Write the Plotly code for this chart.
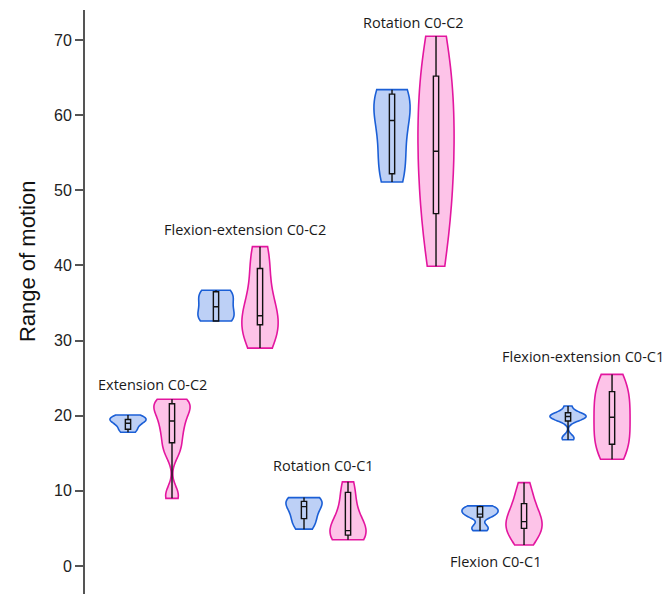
import plotly.graph_objects as go

categories = ["Extension C0-C2", "Flexion-extension C0-C2", "Rotation C0-C1",
              "Rotation C0-C2", "Flexion C0-C1", "Flexion-extension C0-C1"]

blue_samples = [
    [17.8, 18.1, 18.6, 19.2, 19.4, 19.5, 19.6, 19.8, 20.1],
    [32.6, 32.7, 33.0, 33.8, 34.5, 35.3, 36.1, 36.5, 36.7],
    [4.9, 5.6, 6.3, 7.0, 7.9, 8.4, 8.7, 8.9, 9.1],
    [51.1, 52.2, 54.0, 56.5, 59.3, 60.8, 62.0, 62.8, 63.4],
    [4.7, 5.0, 5.4, 6.5, 6.7, 6.9, 7.1, 7.3, 7.5, 7.7, 7.9, 8.0],
    [16.8, 17.2, 19.3, 19.6, 19.8, 19.9, 20.0, 20.2, 20.4, 21.3],
]
pink_samples = [
    [9.0, 9.7, 14.8, 15.8, 16.8, 17.8, 18.6, 19.4, 20.1, 20.8, 21.3, 21.7, 22.0, 22.2],
    [29.0, 30.2, 31.2, 32.1, 32.6, 33.3, 34.5, 36.5, 39.6, 41.0, 42.5],
    [3.5, 3.7, 4.1, 4.4, 4.7, 5.3, 6.5, 8.0, 9.8, 11.2],
    [39.9, 43.5, 46.9, 49.5, 52.5, 55.2, 57.0, 59.5, 62.5, 65.2, 67.5, 70.5],
    [2.8, 3.9, 4.6, 5.0, 5.5, 5.9, 6.5, 7.4, 8.3, 9.6, 11.1],
    [14.2, 14.9, 15.7, 16.5, 17.4, 18.4, 19.3, 20.2, 21.1, 22.0, 22.9, 23.8, 24.7, 25.5],
]

blue_q1 = [18.2, 32.6, 6.3, 52.2, 6.5, 19.3]
blue_median = [19.0, 34.5, 7.9, 59.3, 6.9, 19.9]
blue_q3 = [19.5, 36.5, 8.6, 62.8, 7.9, 20.4]
pink_q1 = [16.4, 32.1, 4.1, 46.9, 5.0, 16.2]
pink_median = [19.3, 33.3, 4.7, 55.2, 5.9, 19.8]
pink_q3 = [21.6, 39.6, 9.8, 65.2, 8.3, 23.2]

y_ticks = [0, 10, 20, 30, 40, 50, 60, 70]

# kernel bandwidth per violin (None = automatic)
blue_bw = [None, None, None, None, 0.45, None]
pink_bw = [1.2, None, None, None, None, None]

BLUE_LINE = "#1b5fd6"
BLUE_FILL = "#bdd0f6"
PINK_LINE = "#e3169f"
PINK_FILL = "#fdc3e8"

fig = go.Figure()

series = [
    (blue_samples, blue_q1, blue_median, blue_q3, blue_bw, BLUE_LINE, BLUE_FILL, 0),
    (pink_samples, pink_q1, pink_median, pink_q3, pink_bw, PINK_LINE, PINK_FILL, 1),
]

for samples, q1, med, q3, bws, lc, fc, off in series:
    for i, vals in enumerate(samples):
        pos = 2 * i + off
        kw = {}
        if bws[i] is not None:
            kw["bandwidth"] = bws[i]
        fig.add_trace(go.Violin(
            x=[pos] * len(vals), y=vals,
            spanmode="hard", width=0.82, scalemode="width",
            line=dict(color=lc, width=1.6), fillcolor=fc,
            points=False, box_visible=False, meanline_visible=False,
            showlegend=False, hoverinfo="skip", **kw,
        ))

for samples, q1, med, q3, bws, lc, fc, off in series:
    fig.add_trace(go.Box(
        x=[2 * i + off for i in range(len(samples))],
        q1=q1, median=med, q3=q3,
        lowerfence=[min(v) for v in samples],
        upperfence=[max(v) for v in samples],
        width=0.12, whiskerwidth=0,
        line=dict(color="#111111", width=1.4),
        fillcolor="rgba(0,0,0,0)",
        boxpoints=False, showlegend=False, hoverinfo="skip",
    ))

label_pos = [(0.55, 24.1), (2.66, 44.85), (4.44, 13.4), (6.48, 72.4), (8.36, 0.55), (10.33, 27.9)]
for name, (lx, ly) in zip(categories, label_pos):
    fig.add_annotation(x=lx, y=ly, text=name, showarrow=False,
                       font=dict(family="Open Sans", size=14.5, color="#1a1a1a"),
                       xanchor="center", yanchor="middle")

# y-axis title placed as rotated text (reference sets it above the axis centre)
fig.add_annotation(xref="paper", yref="paper", x=-0.099, y=0.5685,
                   text="Range of motion", textangle=-90, showarrow=False,
                   font=dict(family="Liberation Sans", size=22, color="#111111"),
                   xanchor="center", yanchor="middle")

# page body has an 8px default margin; compensate so the chart lands where the reference has it
fig.update_layout(
    width=663, height=586,
    margin=dict(l=77, r=11, t=2, b=0),
    paper_bgcolor="white", plot_bgcolor="white",
    violinmode="overlay", boxmode="overlay",
    showlegend=False,
)
fig.update_xaxes(range=[-0.977, 12.09], showticklabels=False, showline=False,
                 showgrid=False, zeroline=False, ticks="")
fig.update_yaxes(range=[-3.73, 74.0], tickvals=y_ticks, showgrid=False, zeroline=False,
                 showline=True, linecolor="#555555", linewidth=2,
                 ticks="outside", ticklen=8, tickwidth=1.5, tickcolor="#555555",
                 tickfont=dict(family="Liberation Sans", size=16, color="#222222"))

fig.write_html("out.html")
